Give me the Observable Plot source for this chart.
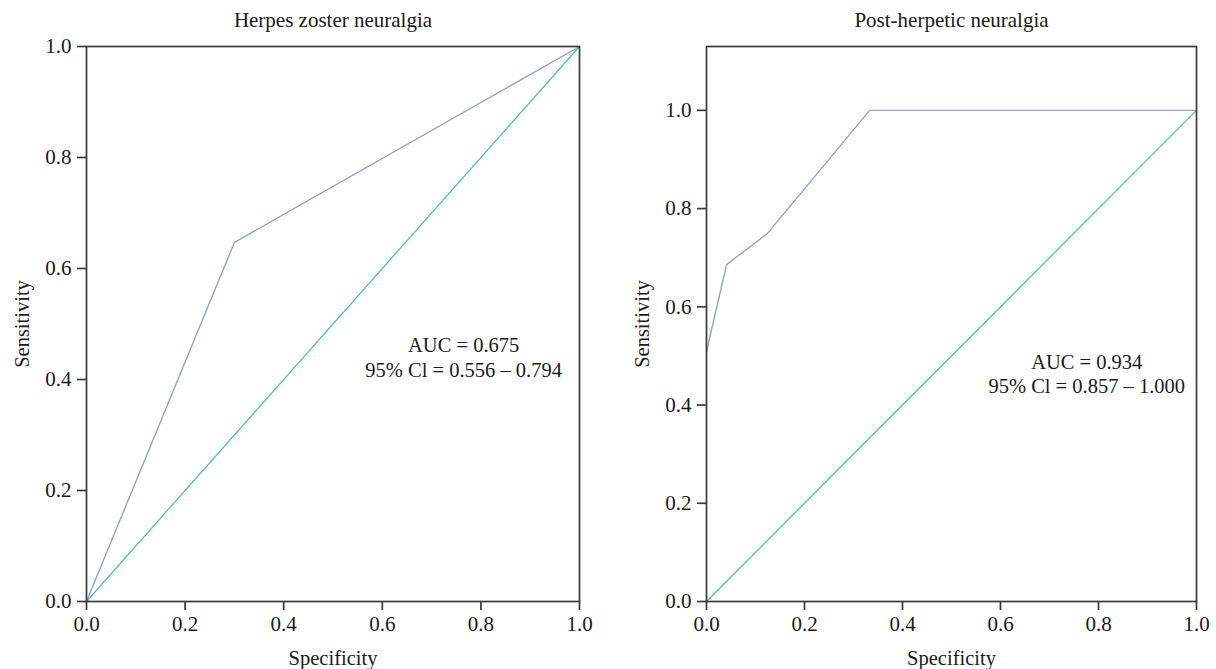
<!DOCTYPE html>
<html>
<head>
<meta charset="utf-8">
<script src="https://cdn.jsdelivr.net/npm/d3@7"></script>
<script src="https://cdn.jsdelivr.net/npm/@observablehq/plot@0.6"></script>
<style>
  html, body { margin: 0; padding: 0; background: #fff; }
  #wrap { display: flex; width: 1216px; height: 669px; }
</style>
</head>
<body>
<div id="wrap"></div>
<script>
// Herpes zoster neuralgia ROC
const hzSpec = [0, 0.3, 1];
const hzSens = [0, 0.647, 1];
// Post-herpetic neuralgia ROC
const phnSpec = [0, 0.041, 0.124, 0.333, 1];
const phnSens = [0.509, 0.686, 0.749, 1, 1];
// reference diagonal
const diagX = [0, 1];
const diagY = [0, 1];
const ticks = [0, 0.2, 0.4, 0.6, 0.8, 1.0];
const titles = ["Herpes zoster neuralgia", "Post-herpetic neuralgia"];
const xLabel = "Specificity";
const yLabel = "Sensitivity";
const aucText = ["AUC = 0.675\n95% Cl = 0.556 \u2013 0.794", "AUC = 0.934\n95% Cl = 0.857 \u2013 1.000"];
const aucPos = [[0.765, 0.441], [0.776, 0.465]];

const rocColor = "#98a5b6";
const diagColor = "#55c59d";
const frameColor = "#3a3a3a";
const textColor = "#1a1a1a";
const font = "'Liberation Serif', 'DejaVu Serif', serif";

function panel(i, spec, sens, yMax, mLeft, mRight) {
  const roc = spec.map((s, k) => ({x: s, y: sens[k]}));
  const diag = diagX.map((s, k) => ({x: s, y: diagY[k]}));
  const fmt = d3.format(".1f");
  return Plot.plot({
    width: 608,
    height: 669,
    marginLeft: mLeft,
    marginRight: mRight,
    marginTop: 46,
    marginBottom: 68,
    style: {fontFamily: font, fontSize: "21px", color: textColor, background: "#fff"},
    x: {domain: [0, 1]},
    y: {domain: [0, yMax]},
    marks: [
      Plot.line(diag, {x: "x", y: "y", stroke: diagColor, strokeWidth: 1.3}),
      Plot.line(roc, {x: "x", y: "y", stroke: rocColor, strokeWidth: 1.4}),
      Plot.frame({stroke: frameColor, strokeWidth: 1.7}),
      Plot.axisX({ticks: ticks, tickFormat: fmt, tickSize: 9, tickPadding: 6, label: null,
        stroke: frameColor, strokeWidth: 1.7, fill: textColor, fontSize: 21}),
      Plot.axisY({ticks: ticks, tickFormat: fmt, tickSize: 9, tickPadding: 6, label: null,
        stroke: frameColor, strokeWidth: 1.7, fill: textColor, fontSize: 21}),
      Plot.text([xLabel], {frameAnchor: "bottom", dy: 57, lineAnchor: "middle", text: d => d,
        fontSize: 20.5, fill: textColor}),
      Plot.text([yLabel], {frameAnchor: "left", dx: -64, rotate: -90, lineAnchor: "middle", textAnchor: "middle",
        text: d => d, fontSize: 20.5, fill: textColor}),
      Plot.text([aucText[i]], {x: aucPos[i][0], y: aucPos[i][1], text: d => d,
        fontSize: 20.5, lineHeight: 1.2, fill: textColor, textAnchor: "middle"}),
      Plot.text([titles[i]], {frameAnchor: "top", dy: -26, lineAnchor: "middle", text: d => d,
        fontSize: 21, fill: textColor})
    ]
  });
}

const wrap = document.getElementById("wrap");
wrap.appendChild(panel(0, hzSpec, hzSens, 1.0, 86, 29));
wrap.appendChild(panel(1, phnSpec, phnSens, 1.13, 98, 20));
</script>
</body>
</html>
